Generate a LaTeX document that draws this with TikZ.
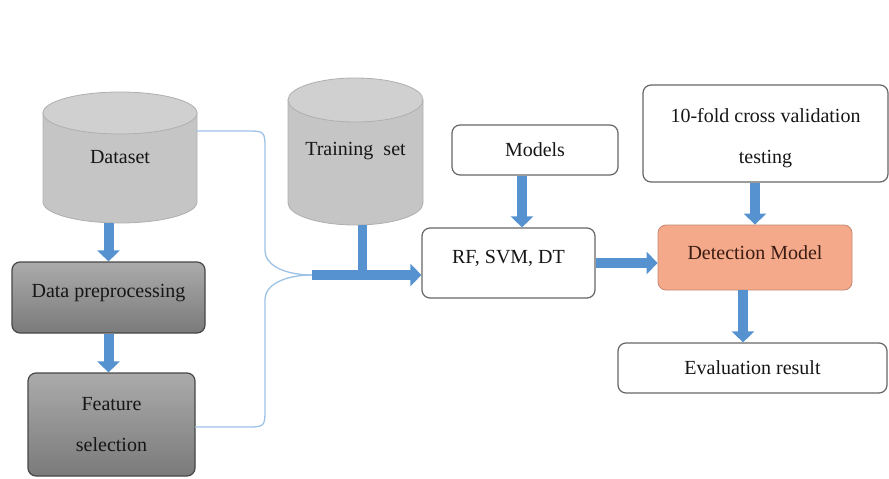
\documentclass[tikz,border=0pt]{standalone}
\usepackage{fontspec}
\setmainfont{Liberation Serif}
\usetikzlibrary{arrows.meta,calc}
\definecolor{arrowblue}{HTML}{5592CF}
\definecolor{thinblue}{HTML}{9CC2E6}
\definecolor{cylbody}{HTML}{C5C5C5}
\definecolor{cyltop}{HTML}{D0D0D0}
\definecolor{cylline}{HTML}{AFAFAF}
\definecolor{boxline}{HTML}{666666}
\definecolor{darkline}{HTML}{474747}
\definecolor{salmon}{HTML}{F5A98B}
\definecolor{txt}{HTML}{161616}
\definecolor{dettxt}{HTML}{3A1C12}
\tikzset{
  lbl/.style={font=\fontsize{20}{41}\selectfont, text=txt, inner sep=0pt, align=center},
  whitebox/.style={lbl, draw=boxline, line width=1.2pt, fill=white, rounded corners=8pt},
  darkbox/.style={lbl, draw=darkline, line width=1.2pt, rounded corners=8pt, top color=black!33, bottom color=black!52},
  detbox/.style={lbl, text=dettxt, draw=salmon!80!black, line width=0.8pt, fill=salmon, rounded corners=8pt},
  cylnode/.style={lbl},
  bigarrow/.style={draw=arrowblue, line width=10pt, -{Triangle[length=11pt,width=22pt]}},
  bigline/.style={draw=arrowblue, line width=9pt},
  thinline/.style={draw=thinblue, line width=1.3pt}
}
\begin{document}
\begin{tikzpicture}[x=1pt,y=-1pt]
\useasboundingbox (0,0) rectangle (889,479);
% Dataset cylinder
\fill[cylbody, draw=cylline, line width=0.8pt] (43,113) -- (43,202) arc[start angle=180, end angle=0, x radius=77, y radius=21] -- (197,113) -- cycle;
\fill[cyltop, draw=cylline, line width=0.8pt] (120,113) ellipse [x radius=77, y radius=21];
\node[cylnode, minimum width=154pt, minimum height=131pt] (ds) at (120,157.5) {Dataset};
% Training set cylinder
\fill[cylbody, draw=cylline, line width=0.8pt] (288,100) -- (288,203) arc[start angle=180, end angle=0, x radius=67.5, y radius=22] -- (423,100) -- cycle;
\fill[cyltop, draw=cylline, line width=0.8pt] (355.5,100) ellipse [x radius=67.5, y radius=22];
\node[cylnode, minimum width=135pt, minimum height=147pt] (ts) at (355.5,151.5) {Training\ \ set};
% boxes
\node[darkbox, minimum width=193pt, minimum height=71pt] (dp) at (108.5,297.5) {\smash{Data preprocessing}};
\node[darkbox, minimum width=167pt, minimum height=103pt] (fs) at (111.5,424.5) {Feature\\selection};
\node[whitebox, minimum width=166pt, minimum height=50pt] (models) at (535,150) {Models};
\node[whitebox, minimum width=173pt, minimum height=70pt] (rf) at (508.5,263) {\smash{RF, SVM, DT}};
\node[whitebox, minimum width=245pt, minimum height=97pt] (tf) at (765.5,133.5) {};
\node[lbl] (tftext) at ([yshift=-5pt]tf.center) {10-fold cross validation\\testing};
\node[detbox, minimum width=194pt, minimum height=65pt] (det) at (755,257.5) {\smash{\raisebox{-2pt}{Detection Model}}};
\node[whitebox, minimum width=269pt, minimum height=50pt] (ev) at (752.5,368) {Evaluation result};
% coordinates
\coordinate (join) at (312,275);
\coordinate (dsout) at (197,131);
\coordinate (fsout) at (195,427);
\coordinate (tsout) at (362,225);
% thin brace lines
\draw[thinline] (dsout) -- (245,131) .. controls (265,131) .. (265,150) -- (265,250) .. controls (265,268) and (290,275) .. (join);
\draw[thinline] (fsout) -- (245,427) .. controls (265,427) .. (265,408) -- (265,300) .. controls (265,282) and (290,275) .. (join);
% arrows
\draw[bigarrow] (dp.north |- ds.south) -- (dp.north);
\draw[bigarrow] (dp.south) -- (dp.south |- fs.north);
\draw[bigline] (tsout) -- (tsout |- join);
\draw[bigarrow] (join) -- (join -| rf.west);
\draw[bigarrow] ([xshift=-13pt]models.south) -- ([xshift=-13pt]models.south |- rf.north);
\draw[bigarrow] (rf.east) -- (rf.east -| det.west);
\draw[bigarrow] (det.north |- tf.south) -- (det.north);
\draw[bigarrow] ([xshift=-12pt]det.south) -- ([xshift=-12pt]det.south |- ev.north);
\end{tikzpicture}
\end{document}
